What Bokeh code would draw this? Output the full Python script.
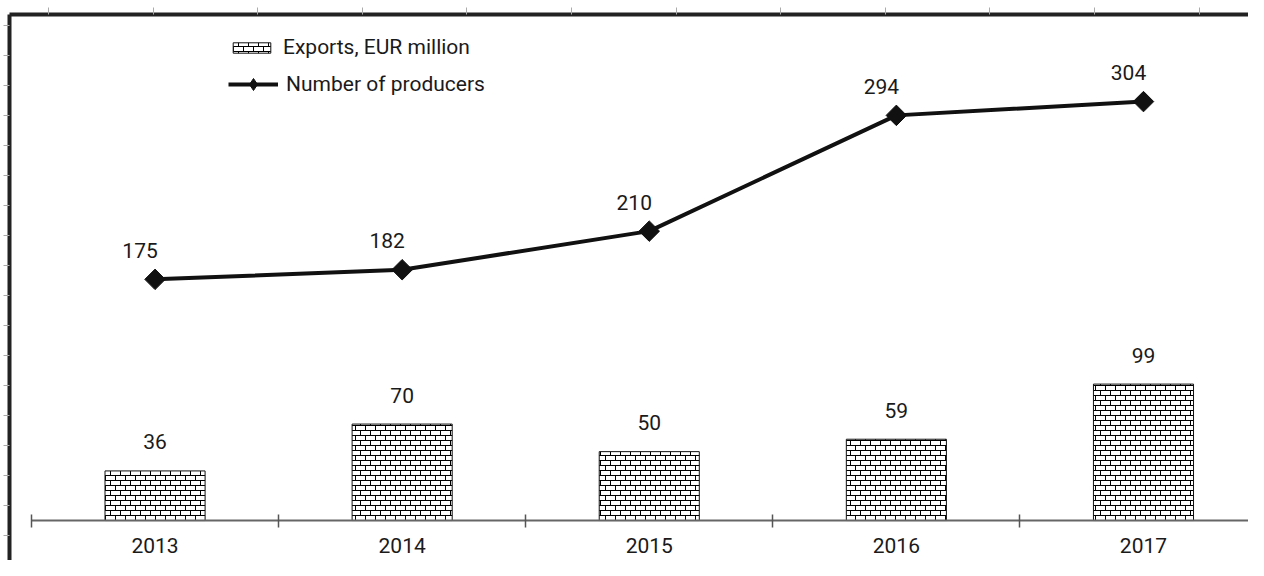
import math, zlib, struct, base64
from bokeh.plotting import figure
from bokeh.models import (Range1d, LinearAxis, FixedTicker, ImageURLTexture,
                          Legend, LegendItem, ColumnDataSource)
from bokeh.core.properties import value
from bokeh.embed import file_html
from bokeh.resources import INLINE

# ---- data ----
years = ["2013", "2014", "2015", "2016", "2017"]
exports = [36, 70, 50, 59, 99]          # Exports, EUR million (bars)
producers = [175, 182, 210, 294, 304]   # Number of producers (line)

xs = [i + 0.5 for i in range(len(years))]
edges = list(range(len(years) + 1))

FONT = "Roboto"
TXT = "#1a1a1a"
FS = "21px"


def brick_png(n=10):
    """Small brick tile used as the bars' fill texture."""
    rows = b""
    for y in range(n):
        row = b"\x00"
        for x in range(n):
            on = y in (0, n // 2) or (y < n // 2 and x == 0) or (y >= n // 2 and x == n // 2)
            row += bytes([0, 0, 0, 255]) if on else bytes([255, 255, 255, 0])
        rows += row

    def chunk(t, d):
        c = struct.pack(">I", len(d)) + t + d
        return c + struct.pack(">I", zlib.crc32(t + d) & 0xffffffff)
    png = b"\x89PNG\r\n\x1a\n" + chunk(b"IHDR", struct.pack(">IIBBBBB", n, n, 8, 6, 0, 0, 0)) \
        + chunk(b"IDAT", zlib.compress(rows)) + chunk(b"IEND", b"")
    return "data:image/png;base64," + base64.b64encode(png).decode()


brick = ImageURLTexture(url=brick_png())

src = ColumnDataSource(dict(
    x=xs, year=years, exports=exports, producers=producers,
    elab=[str(v) for v in exports], plab=[str(v) for v in producers]))

p = figure(width=1248, height=560, output_backend="svg", toolbar_location=None,
           x_range=Range1d(-0.089, 4.925), y_range=Range1d(-29.0, 367.2),
           x_axis_location=None, y_axis_location=None,
           min_border_left=9, min_border_right=0, min_border_top=14, min_border_bottom=0)
p.outline_line_color = None
p.grid.grid_line_color = None
p.background_fill_color = "white"
p.border_fill_color = "white"

bars = p.vbar(x="x", top="exports", bottom=0, width=0.405, source=src,
              fill_color="white", line_color="#111", line_width=1,
              hatch_pattern=value("brick"), hatch_extra={"brick": brick},
              hatch_color="#222", hatch_scale=10, hatch_weight=1)

line = p.line("x", "producers", source=src, line_color="#111", line_width=4)
# small diamonds (hidden under the big ones) give the legend its diamond icon
mini = p.scatter("x", "producers", source=src, marker="diamond", size=12,
                 fill_color="#111", line_color="#111")
pts = p.scatter("x", "producers", source=src, marker="square", angle=math.pi / 4,
                size=14.5, fill_color="#111", line_color="#111")

p.text("x", "exports", text="elab", source=src, text_align="center",
       text_baseline="alphabetic", y_offset=-29, text_font=value(FONT),
       text_font_size=FS, text_color=TXT)
p.text("x", "producers", text="plab", source=src, text_align="center",
       text_baseline="alphabetic", x_offset=-15, y_offset=-29, text_font=value(FONT),
       text_font_size=FS, text_color=TXT)

# x axis at zero, ticks between categories, labels at centres
xaxis = LinearAxis(fixed_location=0,
                   ticker=FixedTicker(ticks=xs, minor_ticks=edges),
                   major_label_overrides={x: y for x, y in zip(xs, years)},
                   bounds=(0, len(years)))
xaxis.major_tick_line_color = None
xaxis.major_tick_in = 0
xaxis.major_tick_out = 0
xaxis.minor_tick_line_color = "#555"
xaxis.minor_tick_line_width = 1.5
xaxis.minor_tick_in = 6
xaxis.minor_tick_out = 7
xaxis.axis_line_color = "#666"
xaxis.axis_line_width = 2
xaxis.major_label_text_font = FONT
xaxis.major_label_text_font_size = FS
xaxis.major_label_text_color = TXT
xaxis.major_label_standoff = 10
p.add_layout(xaxis, "below")

# top border with ruler ticks (minor ticks only, no labels)
p.extra_x_ranges = {"ruler": Range1d(-39, 1200)}
top = LinearAxis(x_range_name="ruler",
                 ticker=FixedTicker(ticks=[], minor_ticks=[k * 104.6 for k in range(12)]))
top.axis_line_width = 4
top.axis_line_color = "#222"
top.major_tick_line_color = None
top.minor_tick_line_color = "#aaa"
top.minor_tick_out = 7
top.minor_tick_in = 0
top.major_label_standoff = 0
p.add_layout(top, "above")

# left border with ruler ticks
p.extra_y_ranges = {"ruler": Range1d(560, 14)}
left = LinearAxis(y_range_name="ruler",
                  ticker=FixedTicker(ticks=[], minor_ticks=[25 + 30 * k for k in range(18)]))
left.axis_line_width = 4
left.axis_line_color = "#222"
left.major_tick_line_color = None
left.minor_tick_line_color = "#aaa"
left.major_tick_in = 0
left.major_tick_out = 0
left.minor_tick_in = 0
left.minor_tick_out = 6
left.major_label_standoff = 0
p.add_layout(left, "left")


def style_legend(lg):
    lg.padding = 0
    lg.margin = 0
    lg.border_line_color = None
    lg.background_fill_alpha = 0
    lg.label_text_font = FONT
    lg.label_text_font_size = FS
    lg.label_text_color = TXT
    lg.label_standoff = 8
    lg.label_height = 24


leg1 = Legend(items=[LegendItem(label="Exports, EUR million", renderers=[bars])],
              location=(219, 501), glyph_width=47, glyph_height=13)
leg2 = Legend(items=[LegendItem(label="Number of producers", renderers=[line, mini])],
              location=(219, 461), glyph_width=50, glyph_height=30)
style_legend(leg1)
style_legend(leg2)
p.add_layout(leg1)
p.add_layout(leg2)

open("out.html", "w").write(file_html(p, INLINE))
